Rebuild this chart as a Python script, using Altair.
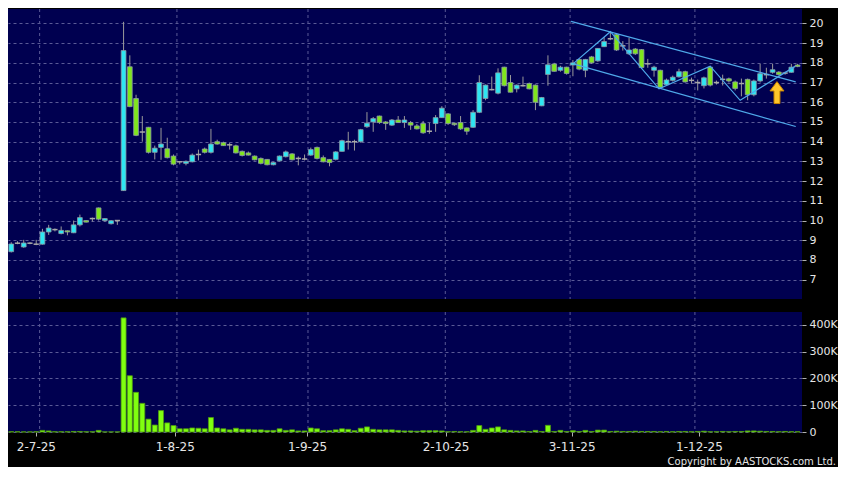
import altair as alt
import pandas as pd

# ---------------- data ----------------
opens = [8.42, 8.85, 8.66, 8.85, 8.8, 8.8, 9.42, 9.54, 9.34, 9.48,
         9.38, 9.78, 10.0, 10.1, 10.64, 10.0, 9.84, 10.0, 11.52, 17.8,
         16.19, 14.49, 14.73, 13.46, 13.71, 13.64, 13.27, 12.98, 12.9, 12.98,
         13.35, 13.63, 13.46, 14.0, 13.95, 13.84, 13.79, 13.51, 13.43, 13.27,
         13.15, 13.1, 12.83, 13.03, 13.24, 13.38, 13.15, 13.12, 13.32, 13.71,
         13.19, 13.1, 13.1, 13.51, 14.0, 14.0, 14.0, 14.76, 15.0, 15.3,
         15.0, 14.84, 15.1, 14.97, 14.97, 14.8, 14.92, 14.53, 14.92, 15.22,
         15.41, 14.94, 14.97, 14.7, 14.73, 15.49, 16.19, 16.64, 16.46, 17.78,
         17.0, 16.68, 16.84, 16.95, 16.87, 15.82, 17.41, 17.94, 17.62, 17.78,
         17.89, 18.17, 17.62, 18.3, 18.1, 18.82, 19.22, 19.43, 18.86, 18.46,
         18.7, 18.67, 17.95, 17.62, 17.62, 16.89, 17.11, 17.29, 17.55, 17.11,
         17.0, 16.84, 17.78, 17.0, 17.16, 17.19, 17.03, 16.95, 17.16, 16.38,
         17.08, 17.4, 17.52, 17.53, 17.48, 17.52, 17.89]
highs = [8.9, 8.95, 9.02, 8.9, 9.02, 9.58, 9.78, 9.6, 9.7, 9.5,
         10.0, 10.3, 10.02, 10.15, 10.66, 10.12, 10.02, 10.02, 20.08, 18.38,
         16.38, 15.3, 14.75, 13.8, 14.7, 14.2, 13.35, 13.0, 13.05, 13.4,
         13.6, 13.7, 14.65, 14.1, 14.0, 13.95, 13.85, 13.55, 13.5, 13.3,
         13.2, 13.12, 12.97, 13.3, 13.55, 13.42, 13.25, 13.35, 13.7, 13.75,
         13.3, 13.12, 13.52, 14.1, 14.5, 14.1, 14.65, 15.5, 15.25, 15.32,
         15.05, 15.15, 15.3, 15.3, 15.05, 14.9, 15.05, 14.95, 15.35, 15.8,
         15.45, 14.96, 15.3, 14.72, 15.6, 17.37, 16.9, 17.3, 17.72, 17.8,
         17.38, 16.9, 17.3, 17.0, 16.9, 16.27, 18.38, 18.0, 17.85, 17.8,
         18.14, 18.2, 18.2, 18.35, 18.75, 19.3, 19.6, 19.5, 19.1, 19.27,
         18.75, 18.7, 18.2, 17.85, 17.65, 17.2, 17.35, 17.7, 17.6, 17.25,
         17.15, 17.3, 17.84, 17.1, 17.4, 17.25, 17.1, 17.2, 17.2, 17.15,
         17.95, 17.75, 17.95, 17.58, 17.55, 17.95, 17.95]
lows = [8.38, 8.8, 8.62, 8.8, 8.75, 8.78, 9.27, 9.45, 9.3, 9.25,
        9.36, 9.7, 9.9, 9.95, 10.0, 9.95, 9.8, 9.78, 11.5, 15.75,
        14.28, 14.0, 13.4, 13.1, 13.08, 13.15, 12.8, 12.85, 12.8, 12.95,
        13.05, 13.4, 13.4, 13.85, 13.78, 13.6, 13.4, 13.25, 13.3, 13.05,
        12.85, 12.8, 12.8, 13.0, 13.2, 13.05, 12.8, 13.05, 13.28, 13.1,
        12.95, 12.75, 13.05, 13.5, 13.6, 13.55, 13.95, 14.7, 14.5, 14.9,
        14.6, 14.8, 14.95, 14.7, 14.6, 14.62, 14.4, 14.4, 14.5, 15.2,
        14.85, 14.8, 14.6, 14.35, 14.7, 15.45, 16.1, 16.6, 16.4, 16.8,
        16.5, 16.5, 16.8, 16.65, 15.6, 15.8, 16.84, 17.55, 17.55, 17.4,
        17.32, 17.62, 17.27, 17.95, 18.05, 18.8, 19.15, 18.6, 18.62, 18.4,
        18.4, 17.7, 17.75, 17.3, 16.7, 16.85, 17.05, 17.25, 17.0, 16.95,
        16.6, 16.7, 16.8, 16.9, 16.85, 17.0, 16.6, 16.3, 16.1, 16.3,
        17.0, 17.2, 17.45, 17.35, 17.4, 17.5, 17.78]
closes = [8.81, 8.85, 8.86, 8.85, 8.8, 9.42, 9.62, 9.54, 9.5, 9.42,
          9.78, 10.15, 9.92, 10.1, 10.07, 10.1, 9.99, 10.0, 18.62, 15.78,
          14.32, 14.49, 13.46, 13.67, 13.88, 13.19, 12.86, 12.98, 13.0, 13.32,
          13.35, 13.46, 13.88, 13.88, 13.8, 13.84, 13.43, 13.3, 13.32, 13.08,
          12.9, 12.83, 12.94, 13.27, 13.48, 13.08, 13.15, 13.12, 13.6, 13.15,
          12.98, 12.94, 13.48, 14.05, 14.0, 14.0, 14.61, 14.94, 15.17, 14.97,
          14.92, 15.1, 14.97, 15.1, 14.84, 14.65, 14.45, 14.53, 15.22, 15.7,
          14.92, 14.86, 14.65, 14.53, 15.49, 17.0, 16.87, 16.64, 17.49, 16.84,
          16.51, 16.87, 16.84, 16.68, 16.0, 16.24, 17.9, 17.57, 17.78, 17.46,
          18.0, 17.68, 18.17, 18.0, 18.73, 19.08, 19.22, 18.65, 18.86, 18.65,
          18.46, 17.76, 17.95, 17.78, 16.76, 17.13, 17.27, 17.55, 17.03, 17.11,
          17.0, 17.24, 16.87, 17.0, 17.16, 17.08, 16.7, 16.95, 16.38, 17.08,
          17.45, 17.4, 17.65, 17.4, 17.48, 17.78, 17.81]
volumes_k = [1, 1, 0.5, 0.5, 1, 6, 4, 1, 1, 1,
             2, 2, 1, 1, 6, 0.5, 0.5, 0.5, 426, 210,
             148, 107, 48, 26, 80, 34, 24, 12, 12, 15,
             14, 12, 54, 15, 12, 8, 14, 10, 10, 8,
             8, 6, 6, 12, 6, 8, 4, 4, 15, 12,
             5, 5, 8, 12, 10, 5, 14, 19, 10, 8,
             8, 8, 6, 4, 4, 3, 5, 5, 5, 4,
             1, 2, 1, 1, 6, 24, 10, 15, 19, 8,
             6, 4, 4, 2, 6, 2, 25, 2, 6, 2,
             5, 2, 6, 2, 7, 7, 2, 3, 2, 2,
             3, 2, 2, 2, 1, 2, 1, 2, 2, 1,
             2, 3, 1, 1, 2, 1, 2, 2, 4, 4,
             3, 2, 2, 1, 2, 1, 1]

month_start_idx = [5, 27, 48, 70, 90, 110]
month_labels = ["2-7-25", "1-8-25", "1-9-25", "2-10-25", "3-11-25", "1-12-25"]
month_label_idx = [3.95, 26.2, 47.4, 69.6, 89.8, 110.2]

price_ticks = list(range(7, 21))
volume_ticks = [0, 100000, 200000, 300000, 400000]

# trend annotations (index, price)
upper_channel = [(89.7, 20.1), (125.7, 17.03)]
lower_channel = [(90.2, 17.93), (125.7, 14.77)]
zigzag = [(90.1, 17.97), (96.0, 19.58), (103.8, 16.68), (112.0, 17.83),
          (116.8, 16.1), (125.6, 17.82)]
arrow_point = [(122.7, 16.49)]
copyright_text = "Copyright by AASTOCKS.com Ltd."

n = len(opens)
assert len(highs) == n and len(lows) == n and len(closes) == n and len(volumes_k) == n

kind = ["up" if c > o else ("down" if c < o else "doji") for o, c in zip(opens, closes)]
df = pd.DataFrame({"i": list(range(n)), "open": opens, "high": highs, "low": lows,
                   "close": closes, "vol": [v * 1000 for v in volumes_k], "kind": kind})
months = pd.DataFrame({"idx": month_start_idx, "label": month_labels})

lines_rows = []
for name, pts in [("upper", upper_channel), ("lower", lower_channel), ("zig", zigzag)]:
    for k, (xi, yp) in enumerate(pts):
        lines_rows.append({"line": name, "k": k, "xi": xi, "yp": yp})
lines_df = pd.DataFrame(lines_rows)
arrow_df = pd.DataFrame({"xi": [a[0] for a in arrow_point], "yp": [a[1] for a in arrow_point]})

# ---------------- style ----------------
NAVY = "#000050"
GRID = "#5a5a96"
LABEL = "#e6e6e6"
TICK = "#b0b0b0"
WICK = "#9a9a9a"
CYAN = "#2ee6f2"
GREEN = "#80e61c"
FONT = "DejaVu Sans"

W = 794
HP = 290
HV = 120

xs = alt.Scale(domain=[-0.52, 126.71], nice=False, zero=False)
ys = alt.Scale(domain=[6.02, 20.73], nice=False, zero=False)
vs = alt.Scale(domain=[0, 448000], nice=False, zero=True)

# label expression for the date axis
expr = "''"
for tv, lab in reversed(list(zip(month_label_idx, month_labels))):
    expr = f"(abs(datum.value - {tv}) < 0.01 ? '{lab}' : {expr})"

x_axis_bottom = alt.Axis(
    orient="bottom", values=month_label_idx, labelExpr=expr, grid=False, domain=False,
    tickColor=TICK, tickSize=4, labelColor=LABEL, labelFont=FONT, labelFontSize=12,
    labelPadding=5, labelOverlap=False, title=None)

y_axis_price = alt.Axis(
    orient="right", values=price_ticks, grid=True, gridDash=[3, 3], gridColor=GRID,
    gridWidth=1, domain=False, tickColor=TICK, tickSize=4, labelColor=LABEL,
    labelFont=FONT, labelFontSize=11, labelPadding=3, labelOverlap=False,
    labelBound=False, title=None)

# ---------------- price panel ----------------
month_rules = alt.Chart(months).transform_calculate(gx="datum.idx - 0.45").mark_rule(
    color=GRID, strokeDash=[3, 3], strokeWidth=1
).encode(x=alt.X("gx:Q", scale=xs, axis=None))

wicks = alt.Chart(df).mark_rule(color=WICK, strokeWidth=1).encode(
    x=alt.X("i:Q", scale=xs, axis=None),
    y=alt.Y("low:Q", scale=ys, axis=y_axis_price),
    y2="high:Q",
)

bodies = alt.Chart(df).transform_filter("datum.kind != 'doji'").transform_calculate(
    x1="datum.i - 0.38", x2="datum.i + 0.38"
).mark_rect(stroke="#8c9aa6", strokeWidth=0.8).encode(
    x=alt.X("x1:Q", scale=xs, axis=None),
    x2="x2:Q",
    y=alt.Y("open:Q", scale=ys, axis=y_axis_price),
    y2="close:Q",
    fill=alt.Fill("kind:N", scale=alt.Scale(domain=["up", "down"], range=[CYAN, GREEN]), legend=None),
)

dojis = alt.Chart(df).transform_filter("datum.kind == 'doji'").transform_calculate(
    x1="datum.i - 0.42", x2="datum.i + 0.42"
).mark_rule(color="#a8a8a8", strokeWidth=1.5).encode(
    x=alt.X("x1:Q", scale=xs, axis=None),
    x2="x2:Q",
    y=alt.Y("close:Q", scale=ys, axis=y_axis_price),
)

trend = alt.Chart(lines_df).mark_line(color="#4fa9ea", strokeWidth=1.2).encode(
    x=alt.X("xi:Q", scale=xs, axis=None),
    y=alt.Y("yp:Q", scale=ys, axis=y_axis_price),
    detail="line:N",
    order="k:Q",
)

arrow_path = "M0,-1L0.64,-0.15L0.27,-0.15L0.27,1L-0.27,1L-0.27,-0.15L-0.64,-0.15Z"
arrow = alt.Chart(arrow_df).mark_point(
    shape=arrow_path, filled=True, fill="#ffc62a", stroke="#c98400", strokeWidth=1,
    size=480, opacity=1
).encode(x=alt.X("xi:Q", scale=xs, axis=None), y=alt.Y("yp:Q", scale=ys, axis=y_axis_price))

price = alt.layer(month_rules, wicks, bodies, dojis, trend, arrow).properties(width=W, height=HP)

# ---------------- volume panel ----------------
month_rules_v = alt.Chart(months).transform_calculate(gx="datum.idx - 0.45").mark_rule(
    color=GRID, strokeDash=[3, 3], strokeWidth=1
).encode(x=alt.X("gx:Q", scale=xs, axis=x_axis_bottom))

vbars = alt.Chart(df).transform_calculate(
    x1="datum.i - 0.4", x2="datum.i + 0.4"
).mark_rect(fill="#80ff10", stroke="#4f9a10", strokeWidth=0.8).encode(
    x=alt.X("x1:Q", scale=xs, axis=x_axis_bottom),
    x2="x2:Q",
    y=alt.Y("vol:Q", scale=vs, axis=alt.Axis(
        orient="right", values=volume_ticks, grid=True, gridDash=[3, 3], gridColor=GRID,
        domain=False, tickColor=TICK, tickSize=4, labelColor=LABEL, labelFont=FONT,
        labelFontSize=11, labelPadding=3, labelOverlap=False, labelBound=False, title=None,
        labelExpr="datum.value == 0 ? '0' : (datum.value / 1000) + 'K'")),
    y2=alt.datum(0),
)

copyright = alt.Chart(pd.DataFrame({"t": [copyright_text]})).mark_text(
    align="right", baseline="alphabetic", font=FONT, fontSize=10, color=LABEL
).encode(x=alt.value(W + 34), y=alt.value(HV + 33), text="t:N")

volume = alt.layer(month_rules_v, vbars, copyright).properties(width=W, height=HV)

chart = alt.vconcat(price, volume, spacing=11).properties(
    padding={"left": 0, "top": 0, "right": 0, "bottom": 0},
    background="black",
).configure_view(fill=NAVY, stroke=None)

chart.save("out.html", embed_options={"renderer": "svg", "actions": False})
